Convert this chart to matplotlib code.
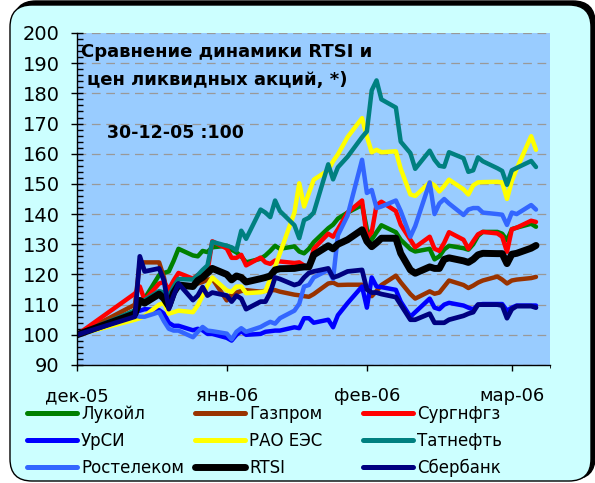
import matplotlib.pyplot as plt
import matplotlib.dates as mdates
from matplotlib.patches import FancyBboxPatch
from matplotlib.ticker import MultipleLocator
import pandas as pd
import numpy as np

plt.rcParams['font.family'] = ['DejaVu Sans']

dates = pd.to_datetime([
    "2005-12-30",
    "2006-01-11", "2006-01-12", "2006-01-13", "2006-01-16", "2006-01-17", "2006-01-18",
    "2006-01-19", "2006-01-20", "2006-01-23", "2006-01-24", "2006-01-25", "2006-01-26",
    "2006-01-27", "2006-01-30", "2006-01-31",
    "2006-02-01", "2006-02-02", "2006-02-03", "2006-02-06", "2006-02-07", "2006-02-08",
    "2006-02-09", "2006-02-10", "2006-02-13", "2006-02-14", "2006-02-15", "2006-02-16",
    "2006-02-17", "2006-02-20", "2006-02-21", "2006-02-22", "2006-02-24", "2006-02-27",
    "2006-02-28",
    "2006-03-01", "2006-03-02", "2006-03-03", "2006-03-06", "2006-03-07", "2006-03-09",
    "2006-03-10", "2006-03-13", "2006-03-14", "2006-03-15", "2006-03-16", "2006-03-17",
    "2006-03-20", "2006-03-21", "2006-03-22", "2006-03-23", "2006-03-24", "2006-03-27",
    "2006-03-28", "2006-03-29", "2006-03-30", "2006-03-31",
    "2006-04-03", "2006-04-04",
])

lukoil = [100, 108, 111, 112, 119.8, 120.5, 121, 124.5, 128.5, 126.3, 126, 127.8, 127.4,
          129, 129.5, 128.2, 127.3, 126, 124, 125.2, 126.3, 127.8, 129.5, 128.5, 129.3,
          127.6, 127, 128.5, 130.7, 135.3, 136.5, 138.5, 140.5, 143, 135, 131.5, 134,
          136.3, 134, 131.5, 128.4, 127.6, 128.5, 125, 126, 128.3, 129.5, 128.7, 128.2,
          130, 132.8, 134.1, 134.1, 133.5, 131.3, 135, 135.5, 136.8, 135.8]
gazprom = [100, 110, 124, 124, 124, 119, 111, 114, 116, 116.5, 117, 117.5, 118.2,
           118.6, 111.4, 113.4, 114, 114.5, 114.8, 114.3, 114.6, 114.8, 114.8, 114.3, 113.3,
           113.1, 112.8, 112.6, 113.5, 117, 117.3, 116.5, 116.6, 116.6, 115.8, 112.8, 114.5,
           116.5, 119.6, 117.4, 113.5, 112, 114.4, 113.6, 114, 116, 118, 116.5, 115.5,
           116.3, 117.3, 118, 119.3, 118.3, 117, 118, 118.3, 118.8, 119.2]
surgut = [100, 113.7, 116, 111.5, 117, 117.5, 115, 118, 120.5, 118.6, 119.8, 120, 121,
          131, 128.6, 125.5, 125.5, 126.5, 123, 125.6, 124, 123.5, 124.6, 124.3, 123.8,
          124, 123, 122.2, 128.5, 133.5, 132.5, 135, 140.5, 144.5, 132, 134, 143,
          144.1, 141, 136.5, 131.5, 129, 132.5, 128.5, 127.8, 130.5, 134, 131.5, 128.5,
          131, 133.3, 134.1, 133.6, 132.5, 127.5, 135, 135.5, 137.8, 137.4]
ursi = [100, 107.5, 108, 108.5, 108.2, 107, 104, 103, 103, 101.5, 102, 101.5, 100.3,
        100.3, 99, 98.1, 100, 101.2, 100, 100.3, 101, 101.2, 101.4, 101.4, 102.5,
        102.2, 105.5, 105.5, 104, 105, 102.5, 106.5, 110.5, 116, 109, 119, 116,
        115.8, 114.9, 111, 106, 107.5, 112, 109, 108.5, 110, 110.6, 109.7, 109,
        108.4, 110, 110.2, 110.2, 110.2, 108, 109, 109.7, 109.7, 109.7]
raoes = [100, 105, 105.5, 106.3, 110, 110.5, 107, 107.5, 108, 107.5, 109.8, 113, 116.3,
         119, 114.7, 114.2, 116, 116, 113.8, 114.1, 114.5, 118.5, 122.5, 127, 140.5,
         150.2, 142.5, 147, 151.4, 154.5, 157.5, 159.8, 165.5, 171.8, 165.7, 160.5, 161.3,
         160.5, 160.8, 155, 146.5, 146, 150.5, 149.5, 147.5, 149.3, 151.4, 148.2, 146.5,
         149.5, 150.5, 150.6, 150.7, 150.5, 145, 151, 155, 165.8, 161.3]
tatneft = [100, 108, 111, 111.5, 114.5, 114, 113, 116, 118.5, 118.3, 119.8, 121.5, 123,
           130.8, 129.5, 129, 128, 134.5, 131.8, 141.5, 140.5, 139, 144.5, 141, 136.3,
           132, 138, 138.8, 140.5, 156.5, 151.5, 155.5, 159, 165.5, 167.4, 181, 184.3,
           178, 175.3, 164, 160.2, 155, 161, 158, 156, 155.7, 160.5, 158.5, 154,
           154.5, 158.8, 157.5, 155.2, 154.3, 149.7, 154.5, 155.3, 157.6, 155.6]
rostelecom = [100, 106.4, 106, 106, 107.5, 104.5, 102, 101.4, 101.4, 99.2, 101, 102.6, 101.4,
              101.2, 100.4, 98.5, 101, 102.2, 101, 102.6, 103.5, 104.3, 103.7, 105.5, 108,
              110.3, 116, 116.5, 119, 121.5, 118.5, 133, 139.5, 158, 147, 148, 142,
              142.5, 144.5, 141, 132.5, 136, 150.5, 140, 143.5, 145, 143.5, 139.7, 141.5,
              142, 142, 140.5, 140, 139.8, 136.4, 140.5, 140, 143, 141.5]
rtsi = [100, 107, 111.4, 110.5, 113.5, 112, 109.5, 114, 116.5, 116, 118, 119, 120.5,
        122, 120, 118.2, 119.5, 119, 117.5, 118.6, 119, 119.5, 121.5, 121.9, 122,
        122.3, 122.5, 122.5, 126.5, 129.5, 128.5, 130, 131.5, 134.8, 131, 129.2, 130.5,
        132, 132, 127, 121.5, 120.4, 122.5, 122, 122, 125, 125.5, 124.5, 124,
        125, 126.5, 127, 126.9, 126.9, 123.6, 126.7, 127, 128.7, 129.6]
sberbank = [100, 106, 126, 121, 122, 118, 108.5, 113, 117, 111.5, 113, 115.8, 113,
            114, 113, 111, 113, 112, 108.5, 111, 111, 114, 119, 118.5, 116.5,
            117, 119, 120.5, 121, 122, 119, 119.5, 121, 121.5, 115, 114, 114,
            113.5, 112.5, 110, 105, 105, 107, 104, 104, 104, 105, 106.3, 107,
            107.5, 110, 110, 110, 109.7, 105.5, 108.5, 109.5, 109.5, 109]

names = ["Лукойл", "Газпром", "Сургнфгз", "УрСИ", "РАО ЕЭС", "Татнефть",
         "Ростелеком", "RTSI", "Сбербанк"]
series = [lukoil, gazprom, surgut, ursi, raoes, tatneft, rostelecom, rtsi, sberbank]
colors = ["#008000", "#993300", "#FF0000", "#0000FF", "#FFFF00", "#008080",
          "#3366FF", "#000000", "#000080"]
widths = [3.2, 3.2, 3.2, 3.2, 3.2, 3.2, 3.2, 5.0, 3.4]

tick_dates = pd.to_datetime(["2005-12-30", "2006-01-30", "2006-02-28", "2006-03-30"])
tick_labels = ["дек-05", "янв-06", "фев-06", "мар-06"]

W, H = 595, 483
fig = plt.figure(figsize=(W / 100, H / 100), dpi=100)
fig.patch.set_facecolor("white")

# frame behind everything, in pixel coords
bg = fig.add_axes([0, 0, 1, 1])
bg.set_xlim(0, W)
bg.set_ylim(H, 0)
bg.axis("off")
bg.add_patch(FancyBboxPatch((14, 1), 581, 478, boxstyle="round,pad=0,rounding_size=22",
                            fc="black", ec="black", lw=1))
bg.add_patch(FancyBboxPatch((10, 5), 581, 476, boxstyle="round,pad=0,rounding_size=22",
                            fc="#CCFFFF", ec="black", lw=1))

ax = fig.add_axes([77 / W, 1 - 365 / H, 473 / W, 332 / H])
ax.set_facecolor("#99CCFF")

for s, c, lw in zip(series, colors, widths):
    ax.plot(dates, s, color=c, lw=lw, solid_joinstyle="round", solid_capstyle="round")

ax.set_ylim(90, 200)
ax.set_xlim(tick_dates[0], tick_dates[0] + pd.Timedelta(days=97.9))
ax.set_yticks(np.arange(90, 201, 10))
ax.yaxis.set_minor_locator(MultipleLocator(2))
ax.set_xticks(tick_dates)
ax.set_xticklabels(tick_labels)
ax.xaxis.set_minor_locator(mdates.DayLocator(interval=1000))

ax.grid(axis="y", color="#999999", lw=0.9, linestyle=(0, (7, 4.5)))
ax.set_axisbelow(True)
for sp in ["top", "right"]:
    ax.spines[sp].set_visible(False)
ax.spines["left"].set_linewidth(1)
ax.spines["bottom"].set_linewidth(1)

ax.tick_params(axis="y", which="major", direction="inout", length=9, width=1,
               labelsize=14, pad=8)
ax.tick_params(axis="y", which="minor", direction="in", length=4, width=1)
ax.tick_params(axis="x", which="major", direction="out", length=4, width=1,
               labelsize=13, pad=12)

ax.text(0.0085, 0.9437, "Сравнение динамики RTSI и", transform=ax.transAxes,
        fontsize=13, fontweight="bold", va="center", ha="left")
ax.text(0.021, 0.8584, "цен ликвидных акций, *)", transform=ax.transAxes,
        fontsize=13, fontweight="bold", va="center", ha="left")
ax.text(0.0634, 0.6997, "30-12-05 :100", transform=ax.transAxes,
        fontsize=12.5, fontweight="bold", va="center", ha="left")

# legend, laid out row by row in three equal columns like the original
for i, (n, c) in enumerate(zip(names, colors)):
    r, col = divmod(i, 3)
    y = 413 + 27 * r
    x0 = 27 + 168 * col
    lw = 5.0 if n == "RTSI" else 3.6
    bg.plot([x0, x0 + 50], [y, y], color=c, lw=lw, solid_capstyle="round")
    bg.text(x0 + 54, y + 1, n, fontsize=12, va="center", ha="left")

fig.savefig("out.png", dpi=100)
